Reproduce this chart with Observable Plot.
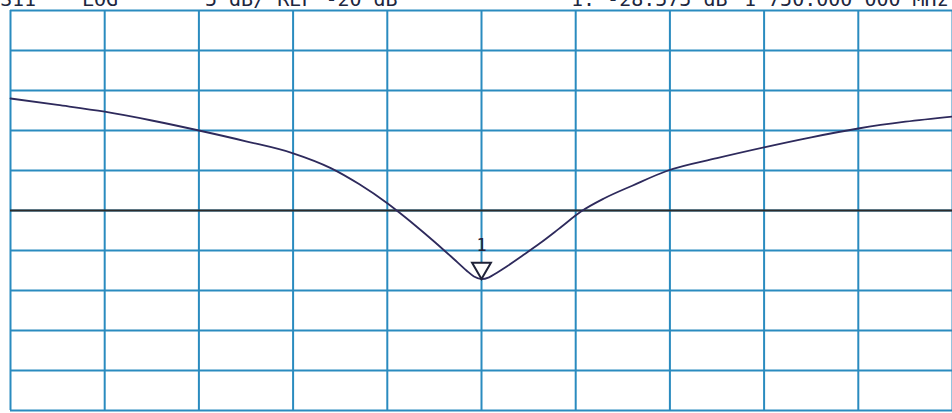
<!DOCTYPE html>
<html><head><meta charset="utf-8">
<script src="https://cdn.jsdelivr.net/npm/d3@7"></script>
<script src="https://cdn.jsdelivr.net/npm/@observablehq/plot@0.6"></script>
<style>
html,body{margin:0;padding:0;background:#fff;overflow:hidden}
#wrap{position:relative;width:952px;height:413px;overflow:hidden}
.hdr{position:absolute;top:-11px;font-family:"DejaVu Sans Mono",monospace;font-size:20px;color:#1d2740;white-space:pre;line-height:20px}
</style></head>
<body>
<div id="wrap"></div>
<script>
// Header texts (cut off at the top in the reference)
const headerTexts = ["S11", "LOG", "5 dB/ REF -20 dB", "1: -28.575 dB", "1 750.000 000 MHz"];
const headerLeft = [0, 82, 205, 571, 744];

// Axes: frequency (MHz) and level (dB)
const xGrid = [1500, 1550, 1600, 1650, 1700, 1750, 1800, 1850, 1900, 1950, 2000];
const yGrid = [5, 0, -5, -10, -15, -20, -25, -30, -35, -40, -45];
const refLevel = -20;

// S11 trace
const freqMHz = [1500, 1525, 1550, 1575, 1600, 1625, 1650, 1670, 1685, 1700, 1705, 1715, 1725, 1735, 1742, 1746, 1750, 1754, 1758, 1764, 1772, 1781, 1791, 1803, 1815, 1830, 1849, 1875, 1900, 1925, 1950, 1975, 2000];
const s11dB   = [-6.0, -6.8, -7.65, -8.75, -10.0, -11.35, -12.85, -14.7, -16.7, -19.1, -20.0, -21.9, -23.9, -26.0, -27.5, -28.25, -28.575, -28.35, -27.8, -26.9, -25.6, -24.1, -22.3, -20.1, -18.5, -16.9, -15.0, -13.45, -12.1, -10.85, -9.75, -8.9, -8.25];

// Marker 1
const markerFreq = [1750];
const markerDB = [-28.575];
const markerLabel = ["1"];

const trace = freqMHz.map((f, i) => ({f, db: s11dB[i]}));
const marker = markerFreq.map((f, i) => ({f, db: markerDB[i], label: markerLabel[i]}));

const gridColor = "#2a8bbf";
const traceColor = "#2e2a5c";

const chart = Plot.plot({
  width: 952, height: 413,
  marginLeft: 10, marginRight: 0, marginTop: 10, marginBottom: 3,
  x: {domain: [1500, 2000], axis: null},
  y: {domain: [-45, 5], axis: null},
  style: {background: "white"},
  marks: [
    Plot.ruleX(xGrid, {stroke: gridColor, strokeWidth: 2}),
    Plot.ruleY(yGrid, {stroke: gridColor, strokeWidth: 2}),
    Plot.ruleY([refLevel], {stroke: "#2b2b2b", strokeWidth: 2}),
    Plot.line(trace, {x: "f", y: "db", stroke: traceColor, strokeWidth: 1.8, curve: "monotone-x"}),
    Plot.dot(marker, {x: "f", y: "db", symbol: "triangle", rotate: 180, r: 7, stroke: "#1f2238", strokeWidth: 2, fill: "white", dy: -11}),
    Plot.text(marker, {x: "f", y: "db", text: "label", dy: -34, fontSize: 17, fontFamily: "DejaVu Sans Mono", fill: "#1f2238"})
  ]
});
const wrap = document.getElementById("wrap");
wrap.appendChild(chart);
headerTexts.forEach((t, i) => {
  const s = document.createElement("div");
  s.className = "hdr";
  s.style.left = headerLeft[i] + "px";
  s.textContent = t;
  wrap.appendChild(s);
});
</script>
</body></html>
